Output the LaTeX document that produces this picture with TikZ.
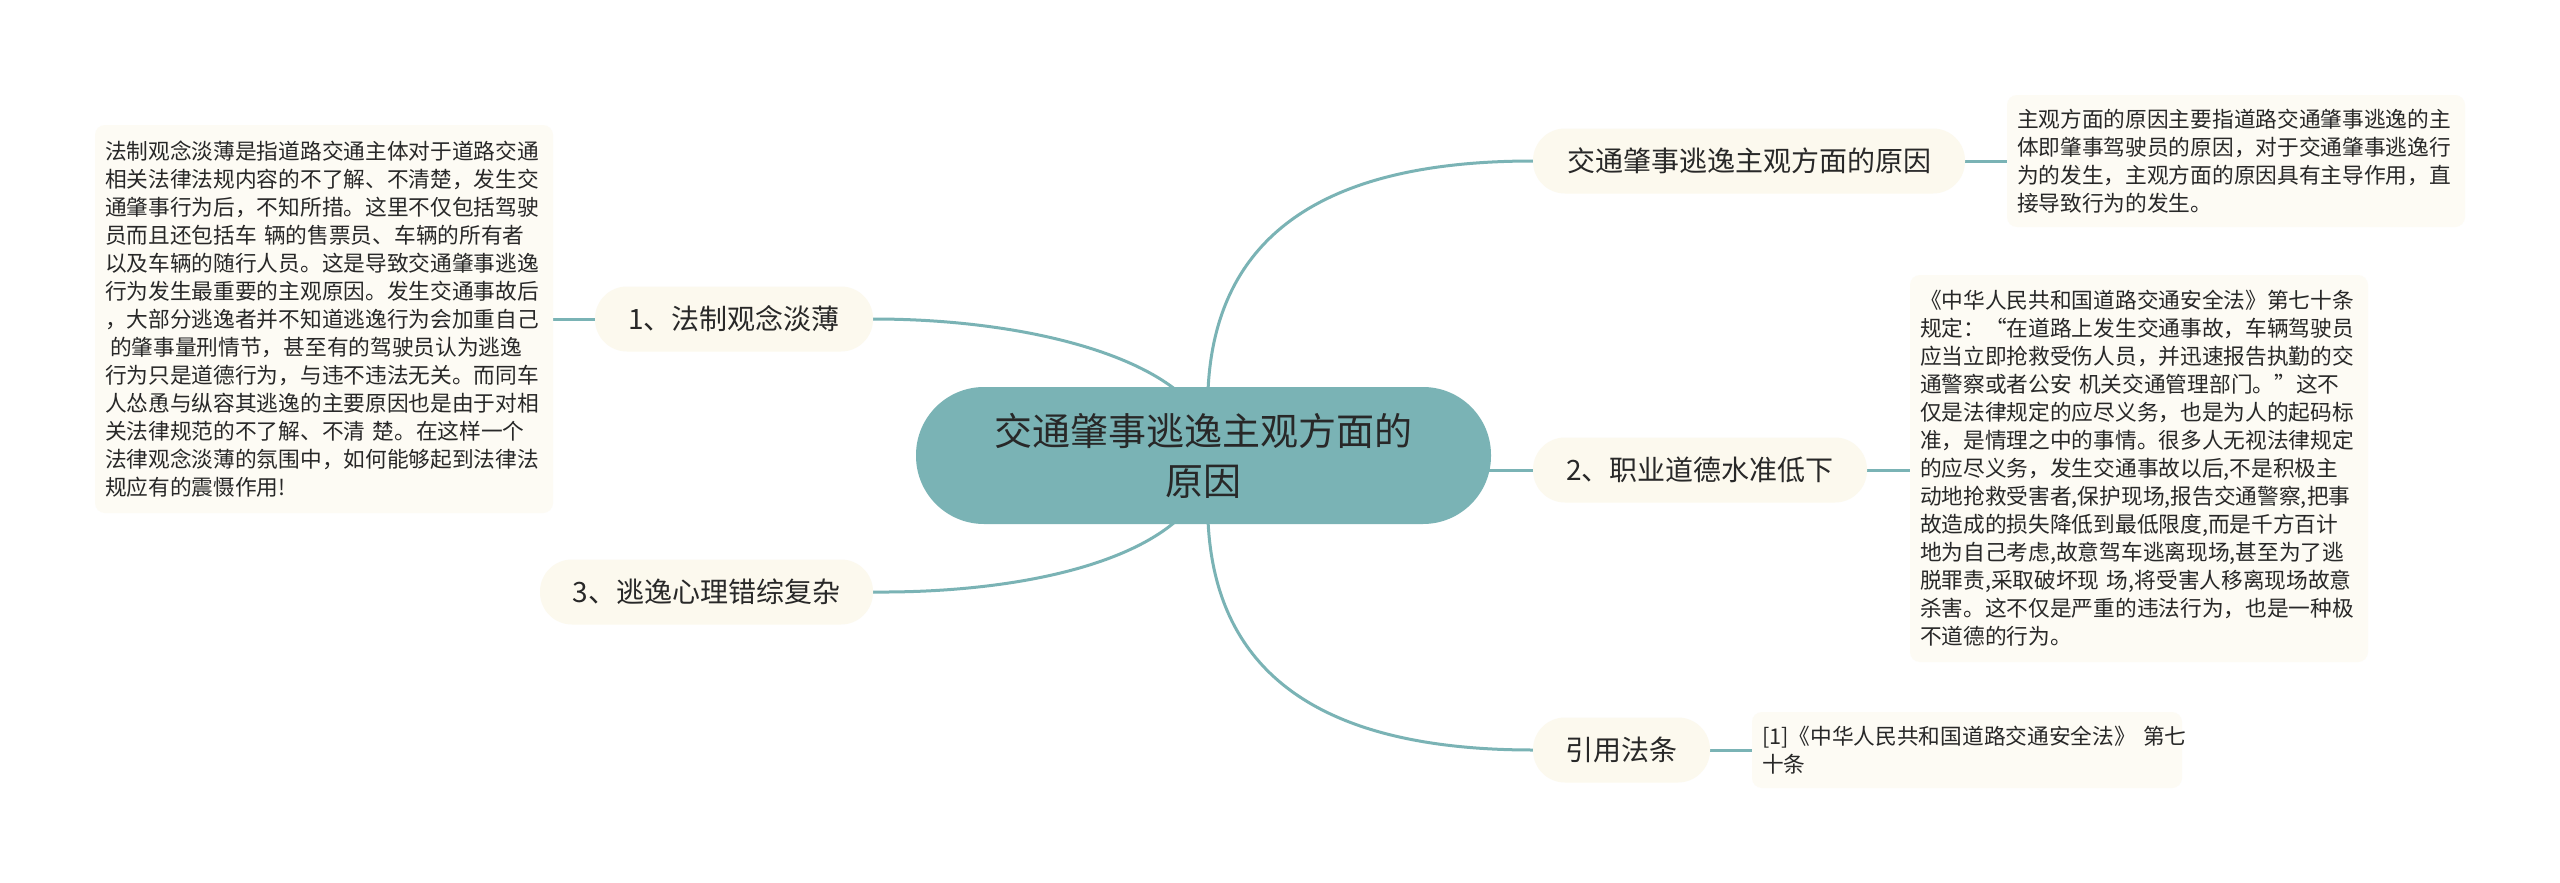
\documentclass[tikz,border=0pt]{standalone}
\usepackage{fontspec}
\setmainfont{Noto Sans CJK SC}
\usetikzlibrary{calc,backgrounds}
\definecolor{tealc}{RGB}{122,179,181}
\definecolor{cream}{RGB}{252,249,238}
\definecolor{boxcream}{RGB}{253,251,244}
\definecolor{ink}{RGB}{40,40,40}
\begin{document}
\begin{tikzpicture}[x=1pt,y=-1pt,
  conn/.style={draw=tealc,line width=3pt},
  pill/.style={fill=cream,rounded corners=32pt,minimum height=65pt,inner sep=0pt,font=\fontsize{28}{34}\selectfont,text=ink},
  infobox/.style={fill=boxcream,rounded corners=10pt,inner xsep=10pt,inner ysep=0pt,align=left,font=\fontsize{21.7}{28}\selectfont,text=ink},
  rootnode/.style={fill=tealc,rounded corners=68pt,minimum width=575pt,minimum height=137pt,inner sep=0pt,align=center,font=\fontsize{38}{50}\selectfont,text=ink}]
\useasboundingbox (0,0) rectangle (2560,883);

\node[rootnode] (root) at (1203.5,455.5) {交通肇事逃逸主观方面的\\原因};

\node[pill,minimum width=432pt] (A) at (1749,161) {交通肇事逃逸主观方面的原因};
\node[pill,minimum width=334pt] (B) at (1700,470) {2、职业道德水准低下};
\node[pill,minimum width=177pt] (C) at (1621.5,750) {引用法条};
\node[pill,minimum width=278pt] (D) at (734,319) {1、法制观念淡薄};
\node[pill,minimum width=333pt] (E) at (706.5,592) {3、逃逸心理错综复杂};

\node[infobox,text width=438pt,minimum height=132pt] (tA) at (2236,161) {主观方面的原因主要指道路交通肇事逃逸的主\\体即肇事驾驶员的原因，对于交通肇事逃逸行\\为的发生，主观方面的原因具有主导作用，直\\接导致行为的发生。};

\node[infobox,text width=438pt,minimum height=387pt] (tB) at (2139,468.5) {《中华人民共和国道路交通安全法》第七十条\\规定：“在道路上发生交通事故，车辆驾驶员\\应当立即抢救受伤人员，并迅速报告执勤的交\\通警察或者公安~机关交通管理部门。”这不\\仅是法律规定的应尽义务，也是为人的起码标\\准，是情理之中的事情。很多人无视法律规定\\的应尽义务，发生交通事故以后,不是积极主\\动地抢救受害者,保护现场,报告交通警察,把事\\故造成的损失降低到最低限度,而是千方百计\\地为自己考虑,故意驾车逃离现场,甚至为了逃\\脱罪责,采取破坏现~场,将受害人移离现场故意\\杀害。这不仅是严重的违法行为，也是一种极\\不道德的行为。};

\node[infobox,text width=410pt,minimum height=76pt] (tC) at (1967,750) {[1]《中华人民共和国道路交通安全法》~第七\\十条};

\node[infobox,text width=438pt,minimum height=388pt] (tD) at (324,319) {法制观念淡薄是指道路交通主体对于道路交通\\相关法律法规内容的不了解、不清楚，发生交\\通肇事行为后，不知所措。这里不仅包括驾驶\\员而且还包括车~辆的售票员、车辆的所有者\\以及车辆的随行人员。这是导致交通肇事逃逸\\行为发生最重要的主观原因。发生交通事故后\\，大部分逃逸者并不知道逃逸行为会加重自己\\\hspace*{5pt}的肇事量刑情节，甚至有的驾驶员认为逃逸\\行为只是道德行为，与违不违法无关。而同车\\人怂恿与纵容其逃逸的主要原因也是由于对相\\关法律规范的不了解、不清~楚。在这样一个\\法律观念淡薄的氛围中，如何能够起到法律法\\规应有的震慑作用!};

\begin{scope}[on background layer]
\fill[white] (0,0) rectangle (2560,883);
\draw[conn] ([xshift=4.5pt,yshift=-4pt]root.north) .. controls (1215,231) and (1330,161) .. (A.west);
\draw[conn] ([xshift=4.5pt,yshift=4pt]root.south) .. controls (1215,680) and (1330,750) .. (C.west);
\draw[conn] ([xshift=-26.5pt,yshift=-4pt]root.north) .. controls (1120,345) and (1000,319) .. (D.east);
\draw[conn] ([xshift=-26.5pt,yshift=4pt]root.south) .. controls (1120,570) and (1000,593) .. (E.east);
\draw[conn] ([xshift=-8pt]root.east |- B.west) -- (B.west);
\draw[conn] (A.east) -- (tA.west |- A.east);
\draw[conn] (B.east) -- (tB.west |- B.east);
\draw[conn] (C.east) -- (tC.west |- C.east);
\draw[conn] (D.west) -- (tD.east |- D.west);
\end{scope}
\end{tikzpicture}
\end{document}
